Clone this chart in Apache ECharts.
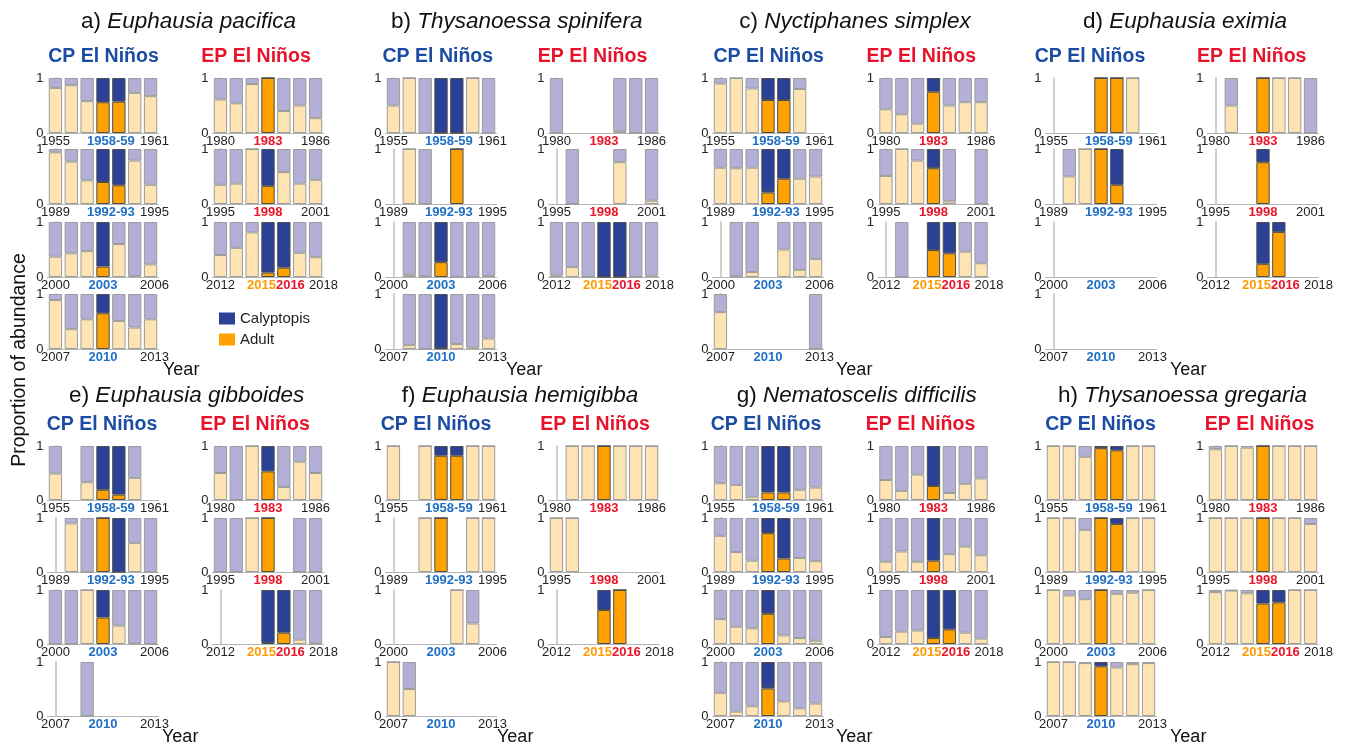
<!DOCTYPE html>
<html>
<head>
<meta charset="utf-8">
<script src="https://cdn.jsdelivr.net/npm/echarts@6/dist/echarts.min.js"></script>
<style>
  html, body { margin: 0; padding: 0; background: #fff; }
  #chart { width: 1345px; height: 746px; }
</style>
</head>
<body>
<div id="chart"></div>
<script>
// ---- Years shown in each row of the two columns ----
const cpYears = [
  [1955, 1956, 1957, 1958, 1959, 1960, 1961],
  [1989, 1990, 1991, 1992, 1993, 1994, 1995],
  [2000, 2001, 2002, 2003, 2004, 2005, 2006],
  [2007, 2008, 2009, 2010, 2011, 2012, 2013]
];
const epYears = [
  [1980, 1981, 1982, 1983, 1984, 1985, 1986],
  [1995, 1996, 1997, 1998, 1999, 2000, 2001],
  [2012, 2013, 2014, 2015, 2016, 2017, 2018]
];
// El Niño years (drawn in full colour)
const cpNinoYears = [[1958, 1959], [1992, 1993], [2003], [2010]];
const epNinoYears = [[1983], [1998], [2015, 2016]];

// Tick labels: first year, El Niño label(s), last year
const cpTickLabels = [
  ['1955', '1958-59', '1961'],
  ['1989', '1992-93', '1995'],
  ['2000', '2003', '2006'],
  ['2007', '2010', '2013']
];
const epTickLabels = [
  ['1980', '1983', '1986'],
  ['1995', '1998', '2001'],
  ['2012', '2015', '2016', '2018']
];

const panelLetters = ['a', 'b', 'c', 'd', 'e', 'f', 'g', 'h'];
const speciesNames = [
  'Euphausia pacifica', 'Thysanoessa spinifera', 'Nyctiphanes simplex', 'Euphausia eximia',
  'Euphausia gibboides', 'Euphausia hemigibba', 'Nematoscelis difficilis', 'Thysanoessa gregaria'
];

// ---- Proportion of adults in each sampled year (the rest of the bar is calyptopis); null = no sample ----
const pacificaCP = [
  [0.82, 0.87, 0.58, 0.56, 0.57, 0.73, 0.67],
  [0.94, 0.77, 0.43, 0.40, 0.34, 0.79, 0.35],
  [0.37, 0.43, 0.47, 0.19, 0.60, 0.02, 0.23],
  [0.89, 0.36, 0.54, 0.65, 0.51, 0.39, 0.54]
];
const pacificaEP = [
  [0.61, 0.54, 0.89, 1.00, 0.40, 0.50, 0.27],
  [0.35, 0.37, 1.00, 0.33, 0.58, 0.37, 0.44],
  [0.40, 0.53, 0.81, 0.08, 0.17, 0.44, 0.36]
];
const spiniferaCP = [
  [0.50, 1.00, 0.00, 0.00, 0.00, 1.00, 0.00],
  [null, 1.00, 0.00, null, 1.00, null, null],
  [null, 0.04, 0.01, 0.27, 0.00, 0.00, 0.02],
  [null, 0.07, 0.00, 0.01, 0.09, 0.03, 0.19]
];
const spiniferaEP = [
  [0.00, null, null, null, 0.04, 0.00, 0.00],
  [null, 0.00, null, null, 0.76, null, 0.06],
  [0.03, 0.18, 0.00, 0.00, 0.00, 0.00, 0.03]
];
const simplexCP = [
  [0.90, 1.00, 0.81, 0.60, 0.60, 0.80, null],
  [0.66, 0.65, 0.66, 0.21, 0.46, 0.46, 0.50],
  [null, 0.01, 0.09, null, 0.50, 0.13, 0.33],
  [0.67, null, null, null, null, null, 0.00]
];
const simplexEP = [
  [0.43, 0.34, 0.17, 0.75, 0.50, 0.56, 0.56],
  [0.51, 1.00, 0.79, 0.65, 0.05, null, 0.00],
  [null, 0.00, null, 0.49, 0.43, 0.46, 0.25]
];
const eximiaCP = [
  [null, null, null, 1.00, 1.00, 1.00, null],
  [null, 0.50, 1.00, 1.00, 0.35, null, null],
  [null, null, null, null, null, null, null],
  [null, null, null, null, null, null, null]
];
const eximiaEP = [
  [null, 0.50, null, 1.00, 1.00, 1.00, 0.00],
  [null, null, null, 0.76, null, null, null],
  [null, null, null, 0.24, 0.82, null, null]
];
const gibboidesCP = [
  [0.49, null, 0.33, 0.19, 0.10, 0.41, null],
  [null, 0.90, 0.00, 1.00, 0.00, 0.54, 0.00],
  [0.00, 0.00, 1.00, 0.49, 0.34, 0.01, 0.00],
  [null, null, 0.00, null, null, null, null]
];
const gibboidesEP = [
  [0.50, 0.00, 1.00, 0.53, 0.24, 0.71, 0.50],
  [0.00, 0.00, 1.00, 1.00, null, 0.00, 0.00],
  [null, null, null, 0.02, 0.21, 0.08, 0.01]
];
const hemigibbaCP = [
  [1.00, null, 1.00, 0.82, 0.82, 1.00, 1.00],
  [null, null, 1.00, 1.00, null, 1.00, 1.00],
  [null, null, null, null, 1.00, 0.38, null],
  [1.00, 0.50, null, null, null, null, null]
];
const hemigibbaEP = [
  [null, 1.00, 1.00, 1.00, 1.00, 1.00, 1.00],
  [1.00, 1.00, null, null, null, null, null],
  [null, null, null, 0.63, 1.00, null, null]
];
const difficilisCP = [
  [0.31, 0.28, 0.06, 0.14, 0.14, 0.19, 0.23],
  [0.67, 0.37, 0.21, 0.72, 0.25, 0.26, 0.20],
  [0.46, 0.32, 0.29, 0.56, 0.16, 0.11, 0.06],
  [0.43, 0.08, 0.18, 0.51, 0.27, 0.14, 0.23]
];
const difficilisEP = [
  [0.37, 0.17, 0.47, 0.26, 0.13, 0.30, 0.40],
  [0.19, 0.38, 0.19, 0.21, 0.33, 0.47, 0.31],
  [0.13, 0.23, 0.25, 0.11, 0.27, 0.21, 0.10]
];
const gregariaCP = [
  [1.00, 1.00, 0.80, 0.96, 0.92, 1.00, 1.00],
  [1.00, 1.00, 0.78, 1.00, 0.89, 1.00, 1.00],
  [1.00, 0.90, 0.83, 1.00, 0.93, 0.95, 1.00],
  [1.00, 1.00, 0.98, 0.92, 0.90, 0.96, 0.98]
];
const gregariaEP = [
  [0.94, 1.00, 0.97, 1.00, 1.00, 1.00, 1.00],
  [1.00, 1.00, 1.00, 1.00, 1.00, 1.00, 0.89],
  [0.96, 0.99, 0.94, 0.75, 0.77, 1.00, 1.00]
];

const adultCP = [pacificaCP, spiniferaCP, simplexCP, eximiaCP, gibboidesCP, hemigibbaCP, difficilisCP, gregariaCP];
const adultEP = [pacificaEP, spiniferaEP, simplexEP, eximiaEP, gibboidesEP, hemigibbaEP, difficilisEP, gregariaEP];

// ---- Styling ----
const FONT = '"Liberation Sans", Arial, sans-serif';
const C_CALY = '#2b4196';
const C_ADULT = '#ffa200';
const C_CALY_LIGHT = '#b3afd6';
const C_ADULT_LIGHT = '#fee4b3';
const C_CP = '#1b4ca3';
const C_EP = '#e8122b';
const C_CP_YEAR = '#1f6fc5';
const C_EP_YEAR = '#e8152a';
const C_2015 = '#ff9a00';

// ---- Layout (pixels) ----
const cpLeft = [47.5, 385.5, 712.5, 1045.5];
const epLeft = [212.5, 548.5, 878, 1207.5];
const plotW = 111;
const rowTop = [[78, 149, 222, 294], [446, 518, 590, 662]];
const plotH = [55, 54];
const titleX = [188.5, 516.7, 855, 1185, 186.7, 520, 856.7, 1182.5];
const titleY = [22, 395.5];
const cpHeadX = [103.5, 437.8, 768.7, 1090, 102, 436, 766, 1100.5];
const epHeadX = [256, 592.5, 921.3, 1251.7, 255, 595, 920.5, 1259.5];
const headY = [57, 425];
const yearX = [163, 506, 836, 1170, 162, 497, 836, 1170];
const yearY = [370, 737];
// extra nudge (in year slots) of the last tick label so it clears the El Niño label
const cpLastShift = 0.25;
const epLastShift = [0, 0, 0.5];

const grids = [], xAxes = [], yAxes = [], series = [];

const labelRich = {
  n:  { color: '#222', fontSize: 13, fontFamily: FONT },
  cb: { color: C_CP_YEAR, fontSize: 13, fontWeight: 'bold', fontFamily: FONT },
  rb: { color: C_EP_YEAR, fontSize: 13, fontWeight: 'bold', fontFamily: FONT },
  ob: { color: C_2015, fontSize: 13, fontWeight: 'bold', fontFamily: FONT }
};

function ninoStyle(label, isEP) {
  if (!isEP) return 'cb';
  return label === '2015' ? 'ob' : 'rb';
}

function addChart(left, top, height, years, ninoYears, adult, ticks, isEP, lastShift) {
  const gi = grids.length;
  grids.push({ left: left, top: top, width: plotW, height: height });

  // tick label positions along the 7 year slots
  const ninoIdx = ninoYears.map(y => years.indexOf(y));
  const mid = ninoIdx.reduce((a, b) => a + b, 0) / ninoIdx.length;
  const midText = ticks.slice(1, -1).map(t => '{' + ninoStyle(t, isEP) + '|' + t + '}').join('');
  const labelMap = {};
  labelMap[0] = '{n|' + ticks[0] + '}';
  labelMap[mid] = midText;
  labelMap[years.length - 1 + lastShift] = '{n|' + ticks[ticks.length - 1] + '}';

  const xCat = xAxes.length;
  xAxes.push({
    gridIndex: gi, type: 'category', position: 'bottom', data: years.map(String),
    axisLine: { show: true, lineStyle: { color: '#b4b4b4', width: 1 } },
    axisTick: { show: false }, axisLabel: { show: false }, splitLine: { show: false }
  });
  xAxes.push({
    gridIndex: gi, type: 'value', position: 'bottom', min: -0.5, max: 6.5, interval: 0.25,
    axisLine: { show: false }, axisTick: { show: false }, splitLine: { show: false },
    axisLabel: {
      margin: 2, showMinLabel: true, showMaxLabel: true,
      formatter: v => labelMap[Math.round(v * 4) / 4] || '',
      rich: labelRich
    }
  });
  yAxes.push({
    gridIndex: gi, type: 'value', min: 0, max: 1, interval: 1,
    axisLine: { show: true, lineStyle: { color: '#d0d0d0', width: 2 } },
    axisTick: { show: false }, splitLine: { show: false },
    axisLabel: { margin: 4, fontSize: 13, color: '#222', fontFamily: FONT }
  });

  const isNino = years.map(y => ninoYears.indexOf(y) >= 0);
  series.push({
    type: 'bar', name: 'Adult', xAxisIndex: xCat, yAxisIndex: gi, stack: 'g' + gi,
    barCategoryGap: '16%', animation: false,
    itemStyle: { color: C_ADULT, borderColor: '#4d4d4d', borderWidth: 1 },
    data: adult.map((v, i) => v == null ? null : {
      value: v,
      itemStyle: isNino[i]
        ? { color: C_ADULT, borderColor: '#4d4d4d' }
        : { color: C_ADULT_LIGHT, borderColor: '#9c9c9c' }
    })
  });
  series.push({
    type: 'bar', name: 'Calyptopis', xAxisIndex: xCat, yAxisIndex: gi, stack: 'g' + gi,
    barCategoryGap: '16%', animation: false,
    itemStyle: { color: C_CALY, borderColor: '#4d4d4d', borderWidth: 1 },
    data: adult.map((v, i) => v == null ? null : {
      value: +(1 - v).toFixed(2),
      itemStyle: isNino[i]
        ? { color: C_CALY, borderColor: '#4d4d4d' }
        : { color: C_CALY_LIGHT, borderColor: '#9c9c9c' }
    })
  });
}

const graphics = [];
function text(x, y, str, opts) {
  graphics.push({
    type: 'text', x: x, y: y, silent: true,
    style: Object.assign({ text: str, align: 'center', verticalAlign: 'middle', fontFamily: FONT, fill: '#111' }, opts)
  });
}

for (let s = 0; s < 8; s++) {
  const half = s < 4 ? 0 : 1;
  const col = s % 4;
  for (let r = 0; r < 4; r++) {
    addChart(cpLeft[col], rowTop[half][r], plotH[half], cpYears[r], cpNinoYears[r], adultCP[s][r], cpTickLabels[r], false, cpLastShift);
  }
  for (let r = 0; r < 3; r++) {
    addChart(epLeft[col], rowTop[half][r], plotH[half], epYears[r], epNinoYears[r], adultEP[s][r], epTickLabels[r], true, epLastShift[r]);
  }
  text(titleX[s], titleY[half], '{n|' + panelLetters[s] + ') }{i|' + speciesNames[s] + '}', {
    rich: {
      n: { fontSize: 22.5, fontFamily: FONT, fill: '#111' },
      i: { fontSize: 22.5, fontFamily: FONT, fontStyle: 'italic', fill: '#111' }
    }
  });
  text(cpHeadX[s], headY[half], 'CP El Niños', { fontSize: 19.5, fontWeight: 'bold', fill: C_CP });
  text(epHeadX[s], headY[half], 'EP El Niños', { fontSize: 19.5, fontWeight: 'bold', fill: C_EP });
  text(yearX[s], yearY[half], 'Year', { fontSize: 18, align: 'left' });
}

graphics.push({
  type: 'text', x: 20, y: 360, rotation: Math.PI / 2, silent: true,
  style: { text: 'Proportion of abundance', align: 'center', verticalAlign: 'middle', fontSize: 19.5, fontFamily: FONT, fill: '#111' }
});

const chart = echarts.init(document.getElementById('chart'), null, { renderer: 'canvas' });
chart.setOption({
  backgroundColor: '#fff',
  animation: false,
  textStyle: { fontFamily: FONT },
  legend: {
    data: ['Calyptopis', 'Adult'], orient: 'vertical', left: 219, top: 311,
    itemWidth: 16, itemHeight: 12, itemGap: 6, icon: 'rect', padding: 0,
    selectedMode: false,
    itemStyle: { borderWidth: 0 },
    textStyle: { fontSize: 15, color: '#222', fontFamily: FONT }
  },
  grid: grids,
  xAxis: xAxes,
  yAxis: yAxes,
  series: series,
  graphic: graphics
});
</script>
</body>
</html>
